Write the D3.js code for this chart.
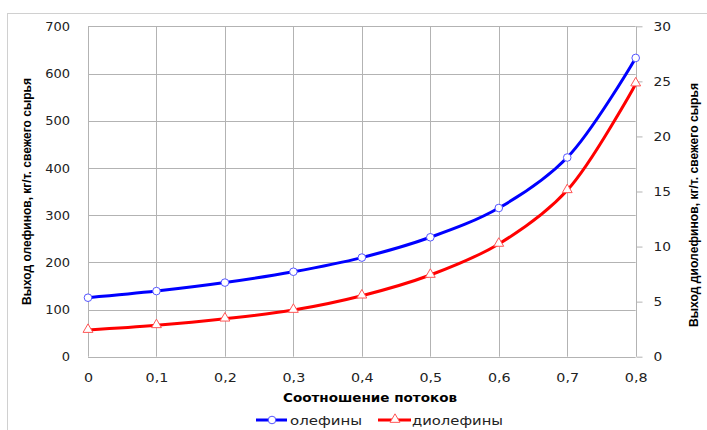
<!DOCTYPE html>
<html><head><meta charset="utf-8">
<script src="https://cdn.jsdelivr.net/npm/d3@7"></script>
<style>body{margin:0;background:#fff}svg{display:block}</style>
</head><body>
<script>
const categories = [0, 0.1, 0.2, 0.3, 0.4, 0.5, 0.6, 0.7, 0.8];
const olefins = [125, 139, 157, 180, 210, 253, 315, 422, 633];
const diolefins = [2.42, 2.85, 3.45, 4.24, 5.54, 7.42, 10.24, 15.11, 24.8];
const leftTicks = [0, 100, 200, 300, 400, 500, 600, 700];
const rightTicks = [0, 5, 10, 15, 20, 25, 30];
const xTickLabels = ["0", "0,1", "0,2", "0,3", "0,4", "0,5", "0,6", "0,7", "0,8"];
const seriesNames = ["олефины", "диолефины"];

const W = 707, H = 430;
const m = {left: 88, top: 26.3, right: 635.7, bottom: 356.7};
const svg = d3.select("body").append("svg").attr("width", W).attr("height", H);
const font = "DejaVu Sans, Verdana, sans-serif";
const grid = "#B3B3B3";

svg.append("rect").attr("x", 7.5).attr("y", 13.5).attr("width", 760).attr("height", 500)
  .attr("fill", "none").attr("stroke", "#D0D0D0");

const x = d3.scaleLinear().domain([0, 0.8]).range([m.left, m.right]);
const yL = d3.scaleLinear().domain([0, 700]).range([m.bottom, m.top]);
const yR = d3.scaleLinear().domain([0, 30]).range([m.bottom, m.top]);

function stretch(sel, f) {
  sel.each(function() {
    const L = this.getComputedTextLength();
    d3.select(this).attr("textLength", L * f).attr("lengthAdjust", "spacingAndGlyphs");
  });
}

// grid
svg.append("g").selectAll("line").data(leftTicks).join("line")
  .attr("x1", m.left).attr("x2", m.right)
  .attr("y1", d => Math.round(yL(d)) + 0.5).attr("y2", d => Math.round(yL(d)) + 0.5)
  .attr("stroke", grid);
svg.append("g").selectAll("line").data(categories).join("line")
  .attr("y1", m.top).attr("y2", m.bottom)
  .attr("x1", d => Math.round(x(d)) + 0.5).attr("x2", d => Math.round(x(d)) + 0.5)
  .attr("stroke", grid);

// left axis
const axL = svg.append("g").attr("transform", `translate(${m.left},0)`)
  .call(d3.axisLeft(yL).tickValues(leftTicks).tickSize(0).tickPadding(18));
axL.select(".domain").remove();
axL.selectAll("text").attr("font-family", font).attr("font-size", 13).attr("fill", "#222");

// right axis
const axR = svg.append("g").attr("transform", `translate(${Math.round(m.right)+0.5},0)`)
  .call(d3.axisRight(yR).tickValues(rightTicks).tickSize(6).tickPadding(11));
axR.select(".domain").remove();
axR.selectAll("line").attr("stroke", grid);
axR.selectAll("text").attr("font-family", font).attr("font-size", 13).attr("fill", "#222");
stretch(axR.selectAll("text"), 1.06);

// x axis
const axX = svg.append("g").attr("transform", `translate(0,${m.bottom})`)
  .call(d3.axisBottom(x).tickValues(categories).tickFormat((d, i) => xTickLabels[i]).tickSize(0).tickPadding(16));
axX.select(".domain").remove();
axX.selectAll("text").attr("font-family", font).attr("font-size", 13).attr("fill", "#222");
stretch(axX.selectAll("text"), 1.1);

// titles
svg.append("text").attr("x", 370).attr("y", 402).attr("text-anchor", "middle")
  .attr("font-family", font).attr("font-weight", "bold").attr("font-size", 13)
  .attr("textLength", 174).attr("lengthAdjust", "spacingAndGlyphs")
  .text("Соотношение потоков");
svg.append("text").attr("transform", "translate(31,191.5) rotate(-90)").attr("text-anchor", "middle")
  .attr("font-family", "Liberation Sans, Arial, sans-serif").attr("font-weight", "bold").attr("font-size", 12.5)
  .attr("textLength", 227).attr("lengthAdjust", "spacingAndGlyphs")
  .text("Выход олефинов, кг/т. свежего сырья");
svg.append("text").attr("transform", "translate(698,205) rotate(-90)").attr("text-anchor", "middle")
  .attr("font-family", "Liberation Sans, Arial, sans-serif").attr("font-weight", "bold").attr("font-size", 12.5)
  .attr("textLength", 244).attr("lengthAdjust", "spacingAndGlyphs")
  .text("Выход диолефинов, кг/т. свежего сырья");

// lines
const curve = d3.curveCatmullRom.alpha(0.5);
const lineL = d3.line().x((d, i) => x(categories[i])).y(d => yL(d)).curve(curve);
const lineR = d3.line().x((d, i) => x(categories[i])).y(d => yR(d)).curve(curve);
svg.append("path").attr("d", lineL(olefins)).attr("fill", "none").attr("stroke", "#0000FF").attr("stroke-width", 3);
svg.append("path").attr("d", lineR(diolefins)).attr("fill", "none").attr("stroke", "#FF0000").attr("stroke-width", 3);

const tri = d3.symbol().type(d3.symbolTriangle).size(42);
svg.append("g").selectAll("circle").data(olefins).join("circle")
  .attr("cx", (d, i) => x(categories[i])).attr("cy", d => yL(d)).attr("r", 3.8)
  .attr("fill", "#fff").attr("stroke", "#5555FF").attr("stroke-width", 1);
svg.append("g").selectAll("path").data(diolefins).join("path")
  .attr("transform", (d, i) => `translate(${x(categories[i])},${yR(d) - 0.5})`).attr("d", tri)
  .attr("fill", "#fff").attr("stroke", "#FF5555").attr("stroke-width", 1);

// legend
const lg = svg.append("g");
lg.append("line").attr("x1", 256).attr("x2", 287).attr("y1", 420).attr("y2", 420).attr("stroke", "#0000FF").attr("stroke-width", 3);
lg.append("circle").attr("cx", 272).attr("cy", 420).attr("r", 3.8).attr("fill", "#fff").attr("stroke", "#5555FF");
lg.append("text").attr("x", 290).attr("y", 424.5).attr("font-family", font).attr("font-size", 13).attr("fill", "#222")
  .attr("textLength", 72).attr("lengthAdjust", "spacingAndGlyphs").text(seriesNames[0]);
lg.append("line").attr("x1", 378).attr("x2", 411).attr("y1", 420).attr("y2", 420).attr("stroke", "#FF0000").attr("stroke-width", 3);
lg.append("path").attr("transform", "translate(395,419.5)").attr("d", tri).attr("fill", "#fff").attr("stroke", "#FF5555");
lg.append("text").attr("x", 412).attr("y", 424.5).attr("font-family", font).attr("font-size", 13).attr("fill", "#222")
  .attr("textLength", 91).attr("lengthAdjust", "spacingAndGlyphs").text(seriesNames[1]);
</script>
</body></html>
